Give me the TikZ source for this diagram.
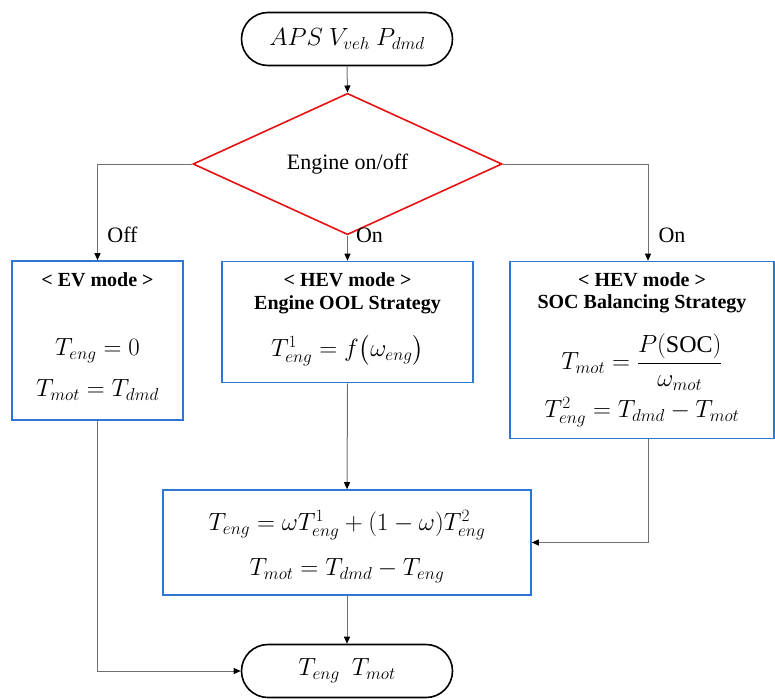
\documentclass[tikz,border=0pt]{standalone}
\usepackage{amsmath}
\usepackage{fontspec}
\setmainfont{Liberation Serif}
\usetikzlibrary{arrows.meta,shapes.geometric,shapes.misc,positioning}
\definecolor{boxblue}{RGB}{46,117,214}
\definecolor{decred}{RGB}{232,16,16}
\definecolor{linegray}{RGB}{112,112,112}
\newcommand{\lblfont}{\fontsize{22}{26}\selectfont}
\newcommand{\modefont}{\fontsize{20}{24}\selectfont\bfseries}
\newcommand{\eqfont}{\fontsize{24}{28}\selectfont}
\tikzset{
    % start / end blocks
    terminal/.style={
        rounded rectangle, draw=black, line width=1.6pt,
        minimum width=211pt, minimum height=53pt, inner sep=0pt,
        font=\eqfont
    },
    % engine on/off test
    decision/.style={
        diamond, draw=decred, line width=1.6pt,
        minimum width=309pt, minimum height=94pt, inner sep=0pt,
        font=\lblfont
    },
    % blue process boxes
    procbox/.style={rectangle, draw=boxblue, line width=1.6pt, inner sep=0pt},
    % texts
    modetitle/.style={font=\modefont, inner sep=0pt},
    eqn/.style={font=\eqfont, inner sep=0pt},
    branchlbl/.style={font=\lblfont, inner sep=0pt},
}
\tikzset{
    % connectors
    flowline/.style={draw=linegray, line width=1pt,
        -{Triangle[length=7pt,width=6pt,color=black]}},
}
\begin{document}
\begin{tikzpicture}[x=1pt,y=-1pt]
      \useasboundingbox (0,0) rectangle (775,698);
      \node[terminal] (start) at (347,39) {$APS\ V_{veh}\ P_{dmd}$};
      \node[decision] (onoff) at (347.5,164) {Engine on/off};
      % mode boxes
      \node[procbox, minimum width=171pt, minimum height=159pt] (ev)  at (97.5,340.5) {};
      \node[procbox, minimum width=251pt, minimum height=121pt] (ool) at (347.5,322) {};
      \node[procbox, minimum width=264pt, minimum height=177pt] (soc) at (642,350) {};
      \node[procbox, minimum width=368pt, minimum height=105pt] (mix) at (347,542.5) {};
      \node[terminal] (stop) at (347,671) {$T_{eng}\ \ T_{mot}$};
      % box contents
      \node[modetitle] (evtitle) at (97.5,280) {< EV mode >};
      \node[eqn] (evteng) at (97.5,351) {$T_{eng}=0$};
      \node[eqn] (evtmot) at (97.5,390) {$T_{mot}=T_{dmd}$};
      \node[modetitle] (ooltitle) at (347.5,280) {< HEV mode >};
      \node[modetitle] (oolname)  at (347.5,305) {Engine OOL Strategy};
      \node[eqn] (ooleq) at (347.5,350.5) {$T_{eng}^{1}=f\big(\omega_{eng}\big)$};
      \node[modetitle] (soctitle) at (642,280) {< HEV mode >};
      \node[modetitle] (socname)  at (642,304) {SOC Balancing Strategy};
      \node[eqn] (soctmot) at (642,362) {$T_{mot}=\dfrac{P(\mathrm{SOC})}{\omega_{mot}}$};
      \node[eqn] (socteng) at (642,412) {$T_{eng}^{2}=T_{dmd}-T_{mot}$};
      \node[eqn] (mixteng) at (347,525.5) {$T_{eng}=\omega T_{eng}^{1}+(1-\omega)T_{eng}^{2}$};
      \node[eqn] (mixtmot) at (347,571) {$T_{mot}=T_{dmd}-T_{eng}$};
      % branch labels
      \node[branchlbl] (offlbl) at (122.5,235) {Off};
      \node[branchlbl] (onlbl)  at (369.5,235) {On};
      \node[branchlbl] (onlbr)  at (672,235)   {On};
      % connectors
      \draw[flowline] (start.south) -- (onoff.north);
      \draw[flowline] (onoff.west) -| (ev.north);
      \draw[flowline] (onoff.south) -- (ool.north);
      \draw[flowline] (onoff.east) -| ([xshift=6pt]soc.north);
      \draw[flowline] (ool.south) -- (mix.north);
      \draw[flowline] ([xshift=6pt]soc.south) |- (mix.east);
      \draw[flowline] (mix.south) -- (stop.north);
      \draw[flowline] (ev.south) |- (stop.west);
    \end{tikzpicture}
\end{document}
